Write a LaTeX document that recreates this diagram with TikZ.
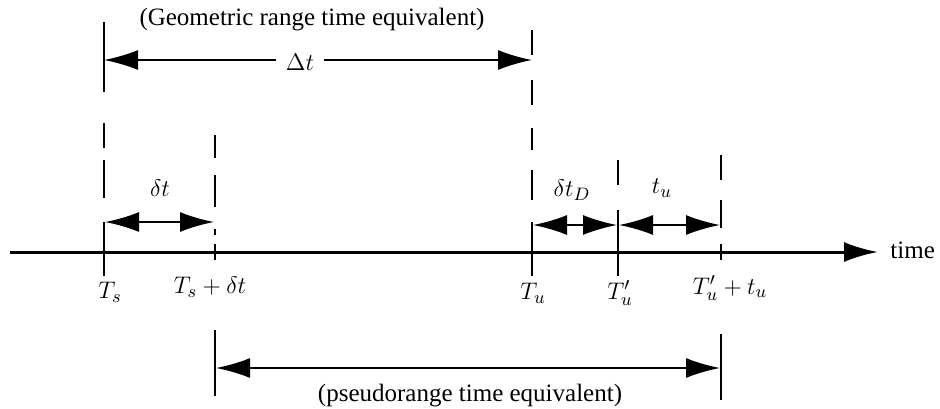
\documentclass[tikz,border=0pt]{standalone}
\usepackage{fontspec}
\setmainfont{Liberation Serif}
\usepackage{amsmath,amssymb}
\usetikzlibrary{arrows.meta,positioning}

\tikzset{
  bigtip/.style={-{Latex[length=17pt,width=10pt]}},
  dimline/.style={{Latex[length=17pt,width=10pt]}-{Latex[length=17pt,width=10pt]}, line width=1pt},
  guide/.style={line width=1pt},
  lbl/.style={font=\fontsize{12.5}{14}\selectfont, inner sep=1pt}
}

\begin{document}
\begin{tikzpicture}[x=0.5pt,y=-0.5pt]
\useasboundingbox (0,0) rectangle (940,408);

% Time axis
\coordinate (axl) at (10,252);
\coordinate (axr) at (878,252);
\node[lbl, anchor=west] (time) at (888,250) {time};
\draw[bigtip, line width=1.5pt] (axl) -- (axr);

% Dashed guide lines (x, from, to)
\foreach \x/\a/\b in {104/22/92, 104/123/148, 104/160/198, 104/222/276,
                      215/135/158, 215/175/207, 215/229/235, 215/244/260,
                      532/30/55, 532/80/105, 532/128/150, 532/170/200, 532/222/276,
                      618/160/185, 618/210/276,
                      721/155/180, 721/200/228, 721/244/260}
  \draw[guide] (\x,\a) -- (\x,\b);

% Geometric range (top)
\coordinate (geoL) at (104,60);
\coordinate (geoR) at (532,60);
\node[lbl] (geo) at (312,20) {(Geometric range time equivalent)};
\draw[dimline] (geoL) -- (geoR);
\node[lbl, fill=white, inner sep=5pt] (dT) at (300,62) {$\Delta t$};

% Small intervals
\coordinate (dL) at (105,222);
\coordinate (dR) at (214,222);
\draw[dimline] (dL) -- (dR);
\node[lbl] (dt) at (160,188) {$\delta t$};

\coordinate (dDL) at (533,225);
\coordinate (dDR) at (617,225);
\draw[dimline] (dDL) -- (dDR);
\node[lbl] (dtD) at (572,190) {$\delta t_D$};

\coordinate (tuL) at (619,225);
\coordinate (tuR) at (720,225);
\draw[dimline] (tuL) -- (tuR);
\node[lbl] (tuLbl) at (662,188) {$t_u$};

% Axis labels
\node[lbl] (lts) at (110,292) {$T_s$};
\node[lbl] (ltsd) at (210,287) {$T_s + \delta t$};
\node[lbl] (ltu) at (533,293) {$T_u$};
\node[lbl] (ltup) at (620,293) {$T_u'$};
\node[lbl] (ltut) at (730,288) {$T_u' + t_u$};

% Pseudorange (bottom)
\draw[guide] (215,330) -- (215,396);
\draw[guide] (721,334) -- (721,400);
\coordinate (psL) at (216,368);
\coordinate (psR) at (720,368);
\draw[dimline] (psL) -- (psR);
\node[lbl] (ps) at (470,396) {(pseudorange time equivalent)};
\end{tikzpicture}
\end{document}
